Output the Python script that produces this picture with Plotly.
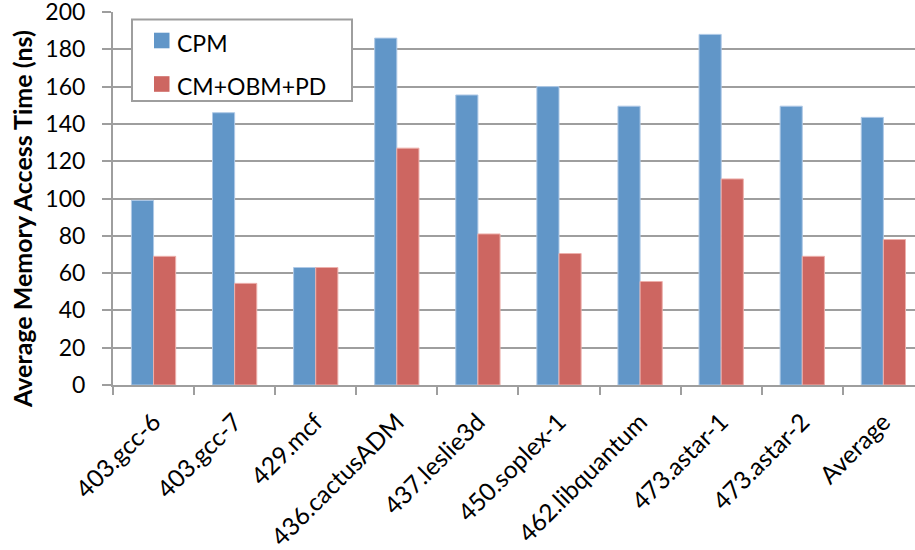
import plotly.graph_objects as go

# Benchmarks and average memory access time (ns) for the two schemes
categories = ["403.gcc-6", "403.gcc-7", "429.mcf", "436.cactusADM", "437.leslie3d",
              "450.soplex-1", "462.libquantum", "473.astar-1", "473.astar-2", "Average"]
series_names = ["CPM", "CM+OBM+PD"]
cpm = [99, 146, 63, 186, 155.5, 160, 149.5, 188, 149.5, 143.5]
cm_obm_pd = [69, 54.5, 63, 127, 81, 70.5, 55.5, 110.5, 69, 78]
y_ticks = [0, 20, 40, 60, 80, 100, 120, 140, 160, 180, 200]
y_title = "Average Memory Access Time (ns)"

BLUE = "#6196C8"
RED = "#CD6661"
GRID = "#9E9E9E"
FONT = "Lato"

W, H = 915, 550
L, R, T, B = 113, 0, 12, 165
PX0, PX1 = L, W - R
PY0, PY1 = T, H - B


def fx(p):
    """pixel x -> paper x"""
    return (p - PX0) / (PX1 - PX0)


def fy(p):
    """pixel y -> paper y"""
    return (PY1 - p) / (PY1 - PY0)


fig = go.Figure()
fig.add_trace(go.Bar(x=categories, y=cpm, name=series_names[0],
                     marker=dict(color=BLUE, line=dict(color="#AFC9E6", width=1)),
                     showlegend=False))
fig.add_trace(go.Bar(x=categories, y=cm_obm_pd, name=series_names[1],
                     marker=dict(color=RED, line=dict(color="#EDB0AC", width=1)),
                     showlegend=False))

# boxed legend in the upper left of the plot area
shapes = [dict(type="rect", xref="paper", yref="paper",
               x0=fx(132), x1=fx(352), y0=fy(101), y1=fy(19.5),
               line=dict(color=GRID, width=2), fillcolor="white", layer="above")]
annotations = []
for i, (name, col) in enumerate(zip(series_names, [BLUE, RED])):
    cy = 40.5 + i * 43.5
    shapes.append(dict(type="rect", xref="paper", yref="paper",
                       x0=fx(154), x1=fx(169.5), y0=fy(cy + 7.8), y1=fy(cy - 7.8),
                       line=dict(width=0), fillcolor=col, layer="above"))
    annotations.append(dict(text=name, xref="paper", yref="paper",
                            x=fx(175), y=fy(cy + 2), xanchor="left", yanchor="middle",
                            showarrow=False, font=dict(family=FONT, size=23, color="black")))

# rotated y-axis title
annotations.append(dict(text="<b>" + y_title + "</b>", xref="paper", yref="paper",
                        x=fx(22), y=fy(219), xanchor="center", yanchor="middle",
                        textangle=-90, showarrow=False,
                        font=dict(family=FONT, size=25, color="black")))

fig.update_layout(
    width=W, height=H,
    margin=dict(l=L, r=R, t=T, b=B, pad=0),
    paper_bgcolor="white", plot_bgcolor="white",
    font=dict(family=FONT, size=23, color="black"),
    barmode="group", bargap=0.454, bargroupgap=0,
    shapes=shapes, annotations=annotations,
    xaxis=dict(
        range=[-0.5, 9.39], tickangle=-45, tickson="boundaries",
        ticks="outside", ticklen=8, tickwidth=2, tickcolor=GRID,
        showline=True, linecolor=GRID, linewidth=2,
        showgrid=False, zeroline=False, automargin=False,
        ticklabelstandoff=11,
        tickfont=dict(family=FONT, size=24.5, color="black"),
    ),
    yaxis=dict(
        range=[0, 200], tickvals=y_ticks,
        ticks="outside", ticklen=9, tickwidth=2, tickcolor=GRID,
        showline=True, linecolor=GRID, linewidth=2,
        showgrid=True, gridcolor=GRID, gridwidth=2, zeroline=False,
        automargin=False,
        ticklabelstandoff=12, ticklabeloverflow="allow",
        tickfont=dict(family=FONT, size=23, color="black"),
    ),
)

fig.write_html("out.html")
